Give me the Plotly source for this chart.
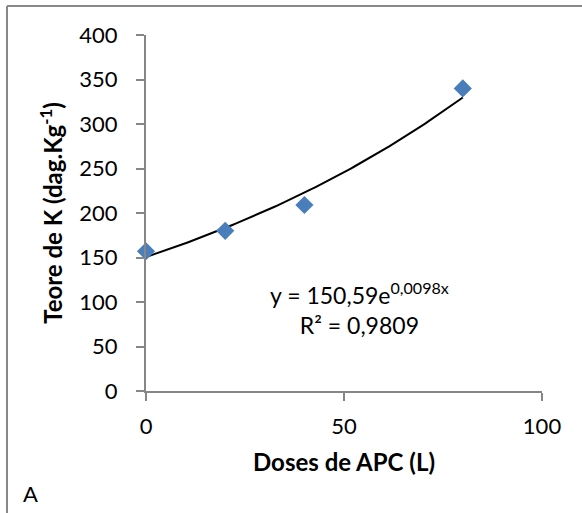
import numpy as np
import plotly.graph_objects as go

# Data
doses = [0, 20, 40, 80]
teor_k = [157, 180, 209, 340]

# Exponential trendline coefficients as printed on the chart
coef_a = 150.59
coef_b = 0.0098

x_ticks = [0, 50, 100]
y_ticks = [0, 50, 100, 150, 200, 250, 300, 350, 400]

FONT = "Lato"
AXIS_GRAY = "#868686"

trend_x = np.linspace(min(doses), max(doses), 100)
trend_y = coef_a * np.exp(coef_b * trend_x)

fig = go.Figure()
fig.add_trace(go.Scatter(
    x=trend_x, y=trend_y, mode="lines",
    line=dict(color="black", width=2),
    showlegend=False, hoverinfo="skip", cliponaxis=False,
))
fig.add_trace(go.Scatter(
    x=doses, y=teor_k, mode="markers",
    marker=dict(symbol="diamond", size=14, color="#4A7EBB",
                line=dict(width=0)),
    showlegend=False, cliponaxis=False,
))

fig.update_layout(
    width=582, height=513,
    margin=dict(l=146, r=40, t=35, b=122),
    paper_bgcolor="white", plot_bgcolor="white",
    font=dict(family=FONT, size=22, color="black"),
    xaxis=dict(
        range=[0, 100], tickvals=x_ticks, ticktext=[str(v) for v in x_ticks],
        showgrid=False, zeroline=False,
        showline=True, linecolor=AXIS_GRAY, linewidth=2,
        ticks="outside", ticklen=8, tickwidth=2, tickcolor=AXIS_GRAY,
        ticklabelstandoff=7,
        title=dict(text="<b>Doses de APC (L)</b>", font=dict(size=24), standoff=16),
    ),
    yaxis=dict(
        range=[0, 400], tickvals=y_ticks, ticktext=[str(v) for v in y_ticks],
        showgrid=False, zeroline=False,
        showline=True, linecolor=AXIS_GRAY, linewidth=2,
        ticks="outside", ticklen=8, tickwidth=2, tickcolor=AXIS_GRAY,
        ticklabelstandoff=14,
        title=dict(text="<b>Teore de K (dag.Kg<sup>-1</sup>)</b>", font=dict(size=24), standoff=10),
    ),
    shapes=[
        dict(type="line", xref="paper", yref="paper",
             x0=-0.351, x1=1.2, y0=1.0815, y1=1.0815,
             line=dict(color="#898989", width=2)),
        dict(type="line", xref="paper", yref="paper",
             x0=-0.351, x1=-0.351, y0=1.0815, y1=-0.4,
             line=dict(color="#898989", width=2)),
    ],
    annotations=[
        dict(x=54, y=93, xref="x", yref="y",
             text="y = 150,59e<sup>0,0098x</sup><br>R² = 0,9809",
             showarrow=False, xanchor="center", yanchor="middle",
             align="center", font=dict(size=23)),
        dict(x=-0.316, y=-0.289, xref="paper", yref="paper",
             text="A", showarrow=False, xanchor="left", yanchor="middle",
             font=dict(size=22)),
    ],
)

fig.write_html("out.html")
